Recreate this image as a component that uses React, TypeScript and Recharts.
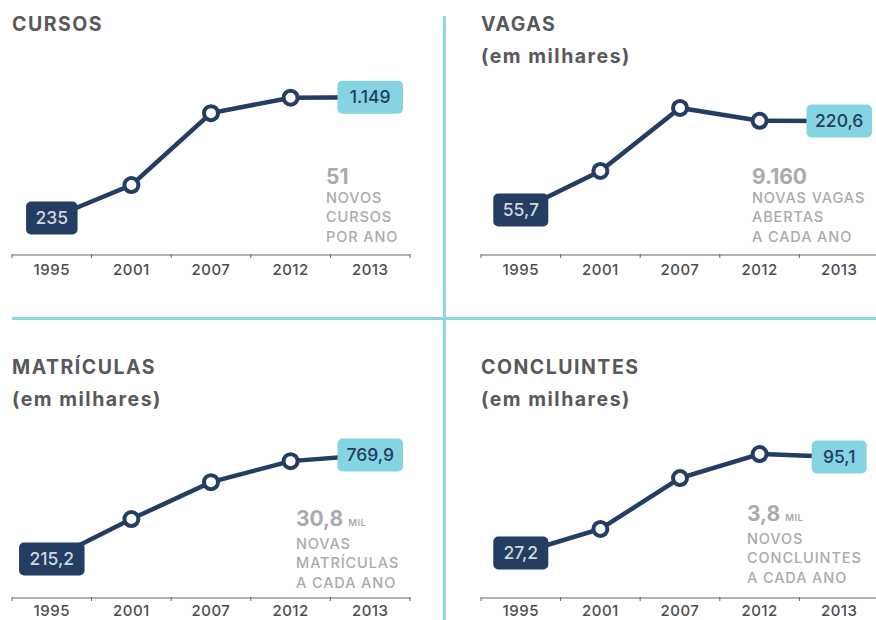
import React from "react";
import { LineChart, Line, XAxis, YAxis, LabelList } from "recharts";

const years = ["1995", "2001", "2007", "2012", "2013"];

const cursos = [235, 484, 1028, 1145, 1149];
const vagas = [55.7, 128, 244.7, 221, 220.6];
const matriculas = [215.2, 428, 625, 737, 769.9];
const concluintes = [27.2, 44.2, 80.2, 97.2, 95.1];

const NAVY = "#233d63";
const CYAN = "#86d4e3";
const GREY = "#a9abae";
const TITLE = "#58595b";
const FONT = "Inter, 'Open Sans', sans-serif";

function fmt(v: number): string {
  if (Number.isInteger(v)) {
    return v >= 1000 ? `${Math.floor(v / 1000)}.${String(v % 1000).padStart(3, "0")}` : String(v);
  }
  return v.toFixed(1).replace(".", ",");
}

function EndLabel(props: any) {
  const { x, y, value, index } = props;
  if (index !== 0 && index !== years.length - 1) return null;
  const text = fmt(value);
  const digits = text.replace(/[^0-9]/g, "").length;
  const w = 20 + digits * 10.5 + (text.length - digits) * 3.5;
  const h = 33;
  const first = index === 0;
  return (
    <g>
      <rect x={x - w / 2} y={y - h / 2} width={w} height={h} rx={5} fill={first ? NAVY : CYAN} />
      <text
        x={x}
        y={y}
        dy={6}
        textAnchor="middle"
        fontFamily={FONT}
        fontSize={17.5}
        fontWeight={500}
        fill={first ? "#d3d6db" : NAVY}
      >
        {text}
      </text>
    </g>
  );
}

function Dot(props: any) {
  const { cx, cy, index } = props;
  if (index === 0 || index === years.length - 1) return <g key={index} />;
  return <circle key={index} cx={cx} cy={cy} r={7} fill="#fff" stroke={NAVY} strokeWidth={4} />;
}

function YearTick(props: any) {
  const { x, y, payload, index, visibleTicksCount, width, labelDy } = props;
  const half = payload.offset || width / visibleTicksCount / 2;
  return (
    <g>
      <line x1={x - half} x2={x - half} y1={y - 1} y2={y + 3} stroke="#666" strokeWidth={1} />
      {index === visibleTicksCount - 1 && (
        <line x1={x + half} x2={x + half} y1={y - 1} y2={y + 3} stroke="#666" strokeWidth={1} />
      )}
      <text
        x={x}
        y={y}
        dy={labelDy}
        textAnchor="middle"
        fontFamily={FONT}
        fontSize={15}
        fontWeight={500}
        letterSpacing={0.5}
        fill="#4d4d4f"
      >
        {payload.value}
      </text>
    </g>
  );
}

function Panel({
  values,
  domain,
  left,
  top,
  height,
  labelDy,
}: {
  values: number[];
  domain: [number, number];
  left: number;
  top: number;
  height: number;
  labelDy: number;
}) {
  const data = years.map((year, i) => ({ year, value: values[i] }));
  return (
    <div style={{ position: "absolute", left, top }}>
      <LineChart
        width={422}
        height={height}
        data={data}
        margin={{ top: 20, right: 12, left: 12, bottom: 0 }}
        style={{ overflow: "visible" }}
      >
        <XAxis
          dataKey="year"
          scale="band"
          height={30}
          axisLine={{ stroke: "#666", strokeWidth: 1 }}
          tickLine={false}
          tickSize={0}
          tickMargin={0}
          tick={<YearTick labelDy={labelDy} />}
          interval={0}
        />
        <YAxis hide domain={domain} type="number" allowDataOverflow />
        <Line
          dataKey="value"
          stroke={NAVY}
          strokeWidth={4.5}
          dot={<Dot />}
          activeDot={false}
          isAnimationActive={false}
        >
          <LabelList dataKey="value" content={<EndLabel />} />
        </Line>
      </LineChart>
    </div>
  );
}

function Title({ left, top, lines }: { left: number; top: number; lines: string[] }) {
  return (
    <div
      style={{
        position: "absolute",
        left,
        top,
        fontFamily: FONT,
        fontWeight: 700,
        fontSize: 19.5,
        color: TITLE,
        letterSpacing: 1.5,
      }}
    >
      {lines.map((l) => (
        <div key={l} style={{ height: 31.5, lineHeight: "19px", whiteSpace: "nowrap" }}>
          {l}
        </div>
      ))}
    </div>
  );
}

function Note({ left, top, big, unit, lines }: { left: number; top: number; big: string; unit?: string; lines: string[] }) {
  return (
    <div style={{ position: "absolute", left, top, fontFamily: FONT, color: GREY, whiteSpace: "nowrap" }}>
      <div style={{ fontSize: 21, fontWeight: 700, lineHeight: "22px" }}>
        {big}
        {unit && <span style={{ fontSize: 9.5, fontWeight: 600, marginLeft: 5, letterSpacing: 0.5 }}>{unit}</span>}
      </div>
      {lines.map((l) => (
        <div key={l} style={{ fontSize: 14.5, fontWeight: 500, lineHeight: "19.3px", letterSpacing: 0.9 }}>
          {l}
        </div>
      ))}
    </div>
  );
}

export default function App() {
  return (
    <div
      style={{
        position: "absolute",
        left: 0,
        top: 0,
        width: 876,
        height: 620,
        overflow: "hidden",
        background: "#fff",
      }}
    >
      <div style={{ position: "absolute", left: 443, top: 16, width: 2.5, height: 604, background: "#8dd6e6" }} />
      <div style={{ position: "absolute", left: 12, top: 317, width: 864, height: 2.5, background: "#8dd6e6" }} />

      <Title left={12} top={15} lines={["CURSOS"]} />
      <Title left={481} top={15} lines={["VAGAS", "(em milhares)"]} />
      <Title left={12} top={358} lines={["MATRÍCULAS", "(em milhares)"]} />
      <Title left={481} top={358} lines={["CONCLUINTES", "(em milhares)"]} />

      <Panel values={cursos} domain={[-45, 1430]} left={0} top={40} height={245} labelDy={20} />
      <Panel values={vagas} domain={[-27.7, 333.6]} left={469} top={40} height={245} labelDy={20} />
      <Panel values={matriculas} domain={[7, 1223]} left={0} top={350} height={278} labelDy={17.5} />
      <Panel values={concluintes} domain={[-4.6, 156.6]} left={469} top={350} height={278} labelDy={17.5} />

      <Note left={326} top={166} big="51" lines={["NOVOS", "CURSOS", "POR ANO"]} />
      <Note left={752} top={166} big="9.160" lines={["NOVAS VAGAS", "ABERTAS", "A CADA ANO"]} />
      <Note left={296} top={508} big="30,8" unit="MIL" lines={["NOVAS", "MATRÍCULAS", "A CADA ANO"]} />
      <Note left={747} top={503} big="3,8" unit="MIL" lines={["NOVOS", "CONCLUINTES", "A CADA ANO"]} />
    </div>
  );
}
